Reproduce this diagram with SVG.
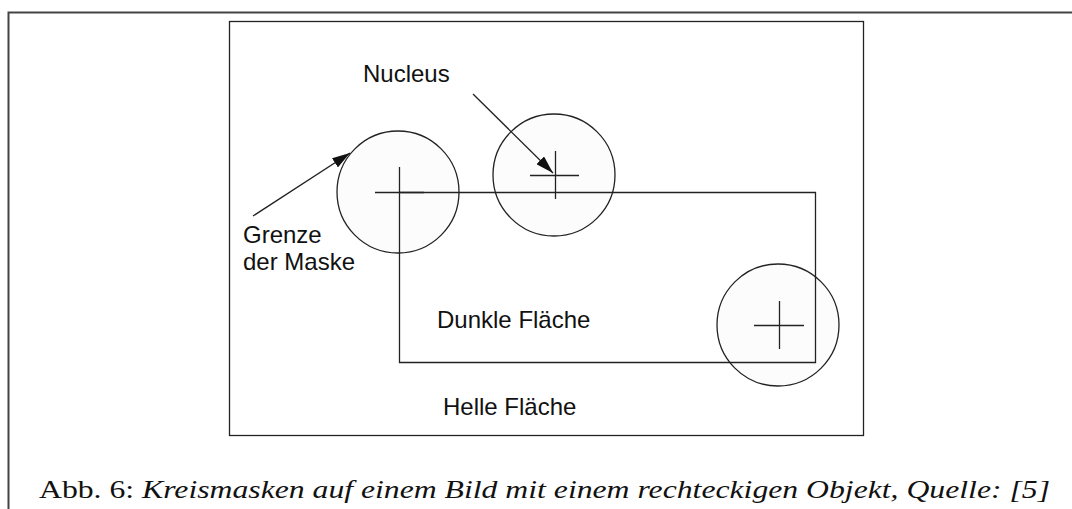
<svg xmlns="http://www.w3.org/2000/svg" width="1072" height="509" viewBox="0 0 1072 509">
  <style>
    .ln { stroke: #222; stroke-width: 1.3; fill: none; }
    .mask { stroke: #222; stroke-width: 1.3; fill: #fcfcfc; }
    .lbl { font-family: "Liberation Sans", Arial, sans-serif; font-size: 24px; fill: #111; }
    .cap { font-family: "Liberation Serif", "Times New Roman", serif; font-size: 26px; fill: #111; }
  </style>
  <defs>
    <marker id="arrow" viewBox="0 0 18 11" refX="18" refY="5.5" markerWidth="18" markerHeight="11" markerUnits="userSpaceOnUse" orient="auto">
      <path d="M0,0 L18,5.5 L0,11 z" fill="#111"/>
    </marker>
  </defs>

  <rect width="1072" height="509" fill="#fff"/>

  <!-- page border -->
  <path d="M8.5,509 V12.5 H1072" stroke="#444" stroke-width="2" fill="none"/>

  <!-- image frame -->
  <rect id="frame" x="229.5" y="21.5" width="634" height="414" class="ln"/>

  <!-- circle masks -->
  <g id="mask1">
    <circle cx="398" cy="192" r="61" class="mask"/>
  </g>
  <g id="mask2">
    <circle cx="554" cy="175" r="61" class="mask"/>
    <path d="M530,175.5 H579 M555.5,151 V199" class="ln"/>
  </g>
  <g id="mask3">
    <circle cx="778" cy="325" r="61" class="mask"/>
    <path d="M754,325.5 H804 M779.5,301 V349" class="ln"/>
  </g>

  <!-- dark rectangular object -->
  <g id="object">
    <path d="M399.5,192.5 H815.5 V362.5 H399.5 Z" class="ln"/>
    <path d="M375,192.5 H424 M399.5,167 V192" class="ln"/>
  </g>

  <!-- labels -->
  <g id="label-nucleus"><text class="lbl" x="363" y="82">Nucleus</text></g>
  <g id="label-grenze">
    <text class="lbl" x="243" y="243">Grenze</text>
    <text class="lbl" x="243" y="270">der Maske</text>
  </g>
  <g id="label-dunkel"><text class="lbl" x="437" y="328">Dunkle Fläche</text></g>
  <g id="label-hell"><text class="lbl" x="443" y="415">Helle Fläche</text></g>

  <!-- connectors -->
  <g id="connectors">
    <line x1="253" y1="216" x2="350" y2="153" class="ln" marker-end="url(#arrow)"/>
    <line x1="473" y1="94" x2="553" y2="173" class="ln" marker-end="url(#arrow)"/>
  </g>

  <!-- caption -->
  <text class="cap" x="39" y="498" textLength="1011" lengthAdjust="spacingAndGlyphs">Abb. 6: <tspan font-style="italic">Kreismasken auf einem Bild mit einem rechteckigen Objekt, Quelle: [5]</tspan></text>
</svg>
